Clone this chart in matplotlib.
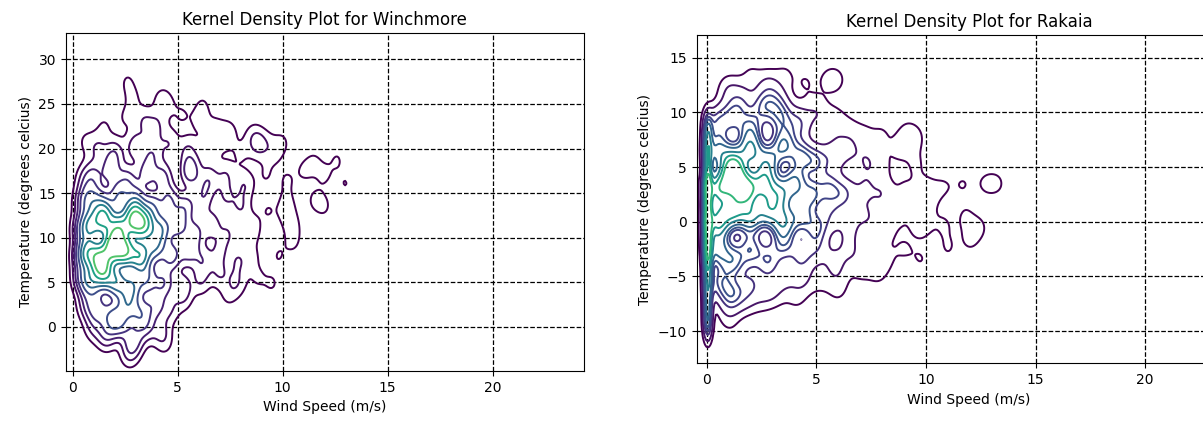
import numpy as np
import matplotlib

matplotlib.use("Agg")
import matplotlib.pyplot as plt

winch_wind = [
    2.6, 2.9, 4.2, 4.5, 6.2,
    1.5, 2.5, 3.4, 4.0, 5.2, 6.0, 6.8, 7.5, 8.6, 9.2, 10.0,
    0.6, 1.2, 2.0, 3.0, 3.8, 4.6, 5.5, 6.5, 7.2, 8.0, 8.8, 9.6, 11.5, 12.6, 14.0,
    0.6, 1.0, 1.8, 2.6, 3.5, 4.3, 5.6, 6.5, 7.3, 8.2, 9.2, 10.2, 11.0, 12.0, 13.0,
    0.55, 0.9, 1.4, 2.2, 3.0, 3.8, 4.6, 5.4, 6.2, 7.3, 8.0, 9.3, 10.2, 11.5, 12.0,
    0.5, 0.9, 1.5, 2.2, 2.9, 3.4, 4.2, 5.0, 5.8, 6.6, 7.4, 8.5, 10.2, 10.5,
    0.5, 0.8, 1.3, 1.9, 2.5, 3.2, 3.9, 4.7, 5.5, 6.2, 7.0, 7.9, 8.6, 9.8, 10.5,
    0.5, 0.9, 1.5, 2.1, 2.8, 3.5, 4.3, 5.2, 6.1, 7.0, 7.8, 8.8, 9.5, 10.5, 7.4,
    0.7, 1.2, 1.9, 2.6, 3.2, 3.9, 4.6, 5.3,
    1.0, 1.6, 2.3, 2.9, 3.5, 4.2, 4.4, 2.7,
]
winch_temp = [
    27.5, 25.6, 25.5, 25.0, 24.8,
    22.5, 23.5, 23.0, 22.5, 23.8, 23.0, 22.5, 22.0, 21.5, 20.5, 20.7,
    20.8, 20.0, 19.5, 20.2, 19.5, 20.5, 19.8, 20.0, 21.0, 19.5, 20.5, 19.5, 18.5, 18.8, 18.8,
    16.5, 17.0, 17.5, 16.5, 17.2, 16.8, 17.5, 16.5, 17.0, 16.0, 17.0, 16.5, 17.5, 17.0, 16.0,
    14.0, 14.5, 13.5, 14.5, 14.0, 13.5, 14.2, 13.5, 14.5, 14.5, 13.5, 13.0, 14.0, 14.2, 13.5,
    11.0, 11.5, 12.0, 11.0, 12.0, 11.5, 11.0, 11.5, 10.5, 11.5, 10.5, 11.0, 12.5, 11.3,
    8.0, 8.5, 7.5, 9.0, 8.5, 8.0, 9.0, 8.0, 8.5, 7.5, 8.5, 7.5, 8.0, 8.0, 9.5,
    5.5, 5.0, 6.0, 5.0, 4.5, 5.5, 5.0, 4.5, 5.2, 6.0, 5.0, 5.5, 4.8, 4.5, 3.5,
    2.5, 2.0, 1.0, 2.5, 1.5, 2.5, 2.0, 3.0,
    0.0, -1.0, 0.5, -1.5, 0.0, -0.5, -1.8, -3.0,
]
winch_count = [
    1, 1, 1, 1, 1,
    1, 1, 2, 2, 1, 1, 1, 1, 1, 1, 1,
    1, 2, 3, 3, 3, 2, 2, 2, 1, 1, 2, 1, 1, 1, 1,
    2, 3, 4, 4, 4, 4, 5, 3, 2, 2, 1, 1, 1, 1, 1,
    4, 5, 7, 7, 8, 6, 5, 4, 3, 2, 2, 1, 1, 1, 1,
    6, 10, 14, 16, 19, 16, 9, 6, 4, 3, 2, 2, 1, 1,
    6, 10, 18, 22, 19, 15, 9, 6, 4, 3, 2, 2, 1, 1, 1,
    5, 8, 13, 11, 9, 7, 5, 3, 2, 2, 2, 1, 1, 1, 1,
    3, 5, 7, 7, 6, 4, 2, 1,
    2, 3, 5, 4, 3, 2, 1, 2,
]

# Rakaia
rak_wind = [
    0.05, 0.05, 0.05, 0.05, 0.05, 0.05, 0.05, 0.05, 0.05, 0.05, 0.05, 0.05, 0.05,
    1.0, 2.0, 2.8, 3.6, 4.5, 1.6, 3.2, 5.5, 6.0,
    0.5, 1.2, 2.0, 2.6, 3.4, 4.2, 5.0, 5.8, 6.5, 7.2, 8.0, 9.1, 9.6,
    0.5, 1.2, 2.0, 2.8, 3.5, 4.3, 5.0, 5.8, 6.5, 7.3, 8.0, 8.8, 9.6,
    0.5, 1.2, 1.8, 2.6, 3.3, 4.0, 4.8, 5.6, 6.3, 7.2, 8.0, 9.0, 10.0, 10.8, 11.7, 12.7, 13.3,
    0.5, 1.2, 2.0, 2.8, 3.5, 4.3, 5.0, 5.7, 6.5, 7.2, 8.0, 8.8, 9.8, 10.8, 11.8, 12.5,
    0.5, 1.2, 2.0, 2.8, 3.5, 4.3, 5.0, 5.8, 6.5, 7.3, 8.2, 9.0, 9.8, 11.0, 12.0,
    0.6, 1.2, 2.0, 2.8, 3.6, 4.4, 5.2, 6.0, 7.0, 7.8,
    1.0, 1.8, 2.5, 3.2, 4.1, 6.0, 1.0,
    1.5, 15.3,
]
rak_temp = [
    -9.5, -8.0, -6.5, -5.0, -3.5, -2.0, -0.5, 1.0, 2.5, 4.0, 5.5, 7.0, 8.5,
    12.0, 13.5, 12.5, 13.5, 12.8, 11.0, 11.0, 13.0, 13.0,
    9.0, 9.5, 8.5, 10.5, 9.5, 9.0, 10.0, 9.0, 8.5, 8.0, 8.0, 8.2, 7.7,
    6.5, 5.5, 6.5, 5.5, 7.0, 6.0, 5.5, 6.0, 6.5, 5.5, 5.0, 6.5, 5.2,
    3.0, 4.0, 3.0, 3.5, 2.5, 3.5, 2.5, 3.0, 2.5, 3.0, 2.5, 3.0, 2.5, 3.2, 3.5, 3.5, 3.5,
    0.0, 1.0, 0.5, 1.0, 0.0, 0.5, -0.5, 0.5, -0.5, 0.5, -0.5, 0.5, 0.0, -0.2, 0.5, -0.5,
    -2.5, -3.5, -2.5, -3.5, -2.0, -3.0, -2.5, -3.5, -2.5, -3.0, -3.5, -2.5, -3.5, -2.5, -1.8,
    -5.5, -6.5, -5.5, -6.0, -5.0, -5.2, -5.5, -4.8, -4.5, -4.8,
    -7.2, -7.0, -7.0, -6.5, -7.0, -6.3, -9.0,
    -12.0, 4.5,
]
rak_count = [
    2, 2, 2, 2, 3, 3, 3, 3, 3, 3, 2, 2, 2,
    2, 1, 2, 1, 1, 3, 3, 1, 1,
    5, 5, 6, 5, 5, 4, 2, 2, 1, 1, 1, 1, 1,
    8, 10, 10, 8, 8, 6, 5, 3, 2, 2, 1, 1, 1,
    13, 16, 15, 11, 9, 8, 6, 5, 4, 2, 2, 1, 2, 1, 1, 1, 1,
    13, 12, 10, 9, 9, 6, 5, 3, 2, 2, 2, 1, 2, 1, 1, 1,
    8, 7, 6, 5, 5, 4, 3, 2, 2, 1, 1, 1, 1, 1, 1,
    5, 4, 3, 2, 2, 2, 1, 1, 1, 1,
    2, 2, 1, 1, 1, 1, 1,
    1, 1,
]


def kde_grid(wind, temp, count, bw, xlim, ylim, calm_bw=None, n=300):
    x = np.asarray(wind, float)
    y = np.asarray(temp, float)
    w = np.asarray(count, float)
    bw_x = np.full_like(x, bw[0])
    if calm_bw is not None:
        # calm readings (wind ~ 0) pile up against the boundary
        bw_x[x < 0.2] = calm_bw
    gx = np.linspace(*xlim, n)
    gy = np.linspace(*ylim, n)
    X, Y = np.meshgrid(gx, gy)
    Z = np.zeros_like(X)
    for xi, yi, wi, bxi in zip(x, y, w, bw_x):
        Z += wi / bxi * np.exp(-0.5 * (((X - xi) / bxi) ** 2 + ((Y - yi) / bw[1]) ** 2))
    return X, Y, Z / Z.sum()


def iso_levels(Z, thresh=0.05, n_levels=10):
    # same idea as seaborn: contours enclose fixed proportions of the mass
    vals = np.sort(Z.ravel())
    cum = np.cumsum(vals)
    cum /= cum[-1]
    props = np.linspace(thresh, 1, n_levels)
    idx = np.clip(np.searchsorted(cum, props), 0, len(vals) - 1)
    return np.unique(vals[idx])


def plot_kde(ax, wind, temp, count, bw, grid_x, grid_y, title, calm_bw=None):
    X, Y, Z = kde_grid(wind, temp, count, bw, grid_x, grid_y, calm_bw)
    ax.contour(X, Y, Z, levels=iso_levels(Z), cmap="viridis", linewidths=1.4)
    ax.grid(True, color="black", linestyle="--", linewidth=0.9)
    ax.set_axisbelow(True)
    ax.set_title(title, fontsize=12)
    ax.set_xlabel("Wind Speed (m/s)")
    ax.set_ylabel("Temperature (degrees celcius)")


def main():
    fig = plt.figure(figsize=(12.03, 4.23), dpi=100)
    ax1 = fig.add_axes([0.0546, 0.123, 0.4308, 0.799])
    ax2 = fig.add_axes([0.5791, 0.141, 0.453, 0.776])

    plot_kde(ax1, winch_wind, winch_temp, winch_count, (0.33, 1.2),
             (-1.5, 17), (-8, 31), "Kernel Density Plot for Winchmore")
    ax1.set_xlim(-0.33, 24.35)
    ax1.set_ylim(-4.93, 32.95)
    ax1.set_xticks([0, 5, 10, 15, 20])
    ax1.set_yticks([0, 5, 10, 15, 20, 25, 30])

    plot_kde(ax2, rak_wind, rak_temp, rak_count, (0.38, 1.1),
             (-1.5, 17), (-15, 16), "Kernel Density Plot for Rakaia", calm_bw=0.14)
    ax2.set_xlim(-0.456, 24.4)
    ax2.set_ylim(-12.96, 17.08)
    ax2.set_xticks([0, 5, 10, 15, 20])
    ax2.set_yticks([-10, -5, 0, 5, 10, 15])

    fig.savefig("out.png", dpi=100)


if __name__ == "__main__":
    main()
